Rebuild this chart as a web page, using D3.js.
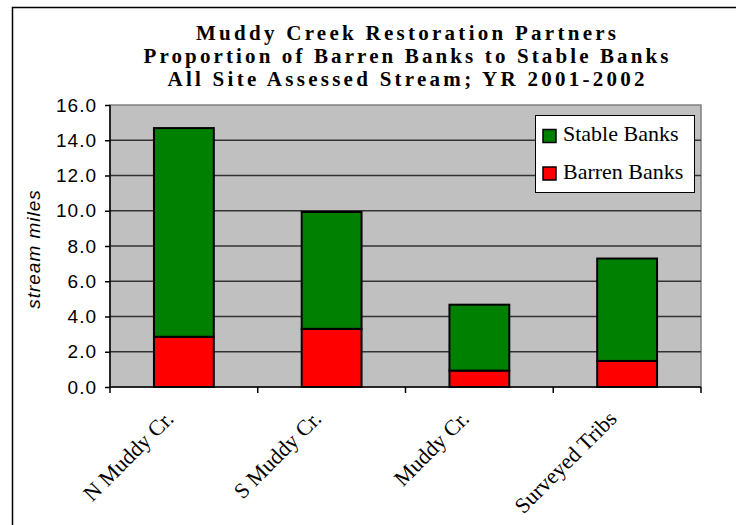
<!DOCTYPE html>
<html>
<head>
    <meta charset="utf-8"/>
    <title>Muddy Creek - barren vs stable banks</title>
    <script src="https://d3js.org/d3.v7.min.js"></script>
</head>
<style>
    body { margin: 0; background: #fff; }
    .grid line { stroke: #333; stroke-width: 1.5px; }
    .title { font-family: "Liberation Serif", "Times New Roman", serif; font-weight: bold; font-size: 21px; }
    .ytick { font-family: "Liberation Sans", Arial, sans-serif; font-size: 19px; letter-spacing: 1px; }
    .xlab { font-family: "Liberation Serif", "Times New Roman", serif; font-size: 22px; }
    .legend text { font-family: "Liberation Serif", "Times New Roman", serif; font-size: 22px; }
</style>
<body>
<div id="chart"></div>
<script>
    var sites = ["N Muddy Cr.", "S Muddy Cr.", "Muddy Cr.", "Surveyed Tribs"];
    var barren = [2.85, 3.30, 0.93, 1.48];
    var stable = [11.84, 6.63, 3.74, 5.81];
    var yTicks = [0, 2, 4, 6, 8, 10, 12, 14, 16];
    var titleLines = ["Muddy Creek Restoration Partners",
                      "Proportion of Barren Banks to Stable Banks",
                      "All Site Assessed Stream; YR 2001-2002"];
    var titleWidths = [420, 525, 477];

    var width = 736, height = 525;
    var plot = {left: 110, right: 701, top: 105, bottom: 387};

    var svg = d3.select("#chart").append("svg")
        .attr("width", width).attr("height", height);

    // outer chart frame (runs off the right and bottom edge)
    svg.append("rect")
        .attr("x", 12.5).attr("y", 7.5)
        .attr("width", 760).attr("height", 560)
        .attr("fill", "#fff").attr("stroke", "#000").attr("stroke-width", 1.5);

    var x = d3.scaleBand().domain(sites).range([plot.left, plot.right]);
    var y = d3.scaleLinear().domain([0, 16]).range([plot.bottom, plot.top]);
    var barW = x.bandwidth() * 0.405;

    svg.append("rect")
        .attr("x", plot.left).attr("y", plot.top)
        .attr("width", plot.right - plot.left).attr("height", plot.bottom - plot.top)
        .attr("fill", "#c0c0c0").attr("stroke", "#808080").attr("stroke-width", 1.5);

    svg.append("g").attr("class", "grid")
        .selectAll("line").data(yTicks.filter(function(d){ return d > 0 && d < 16; }))
        .enter().append("line")
        .attr("x1", plot.left).attr("x2", plot.right)
        .attr("y1", function(d){ return y(d); }).attr("y2", function(d){ return y(d); });

    // title
    svg.selectAll(".title").data(titleLines).enter().append("text")
        .attr("class", "title")
        .attr("x", 406)
        .attr("y", function(d, i){ return 40 + i * 23; })
        .attr("text-anchor", "middle")
        .attr("textLength", function(d, i){ return titleWidths[i]; })
        .attr("lengthAdjust", "spacing")
        .text(function(d){ return d; });

    // stacked bars
    var stacked = sites.map(function(s, i){
        return {site: s, barren: barren[i], stable: stable[i]};
    });
    var series = d3.stack().keys(["barren", "stable"])(stacked);
    var colors = {barren: "#ff0000", stable: "#008000"};

    svg.append("g").selectAll("g").data(series).enter().append("g")
        .attr("fill", function(d){ return colors[d.key]; })
        .selectAll("rect").data(function(d){ return d; }).enter().append("rect")
        .attr("x", function(d){ return x(d.data.site) + (x.bandwidth() - barW) / 2; })
        .attr("width", barW)
        .attr("y", function(d){ return y(d[1]); })
        .attr("height", function(d){ return y(d[0]) - y(d[1]); })
        .attr("stroke", "#000").attr("stroke-width", 2);

    // y axis
    var yAxis = d3.axisLeft(y).tickValues(yTicks).tickSize(5).tickFormat(d3.format(".1f"));
    var gy = svg.append("g").attr("transform", "translate(" + plot.left + ",0)").call(yAxis);
    gy.select(".domain").attr("stroke", "#000").attr("stroke-width", 1.5).attr("d", "M0," + plot.top + "V" + plot.bottom);
    gy.selectAll(".tick line").attr("stroke", "#000").attr("stroke-width", 1.5);
    gy.selectAll(".tick text").attr("class", "ytick").attr("x", -13).attr("fill", "#000");
    gy.attr("font-size", null).attr("font-family", null);

    svg.append("text")
        .attr("transform", "translate(40," + ((plot.top + plot.bottom) / 2 + 3) + ") rotate(-90)")
        .attr("text-anchor", "middle")
        .attr("font-family", "Liberation Sans, Arial, sans-serif")
        .attr("font-style", "italic")
        .attr("font-size", 19)
        .attr("letter-spacing", 1)
        .text("stream miles");

    // x axis: ticks at category boundaries
    var bounds = sites.map(function(s){ return x(s); }).concat([plot.right]);
    svg.append("line")
        .attr("x1", plot.left).attr("x2", plot.right)
        .attr("y1", plot.bottom).attr("y2", plot.bottom)
        .attr("stroke", "#000").attr("stroke-width", 1.5);
    svg.selectAll(".xtick").data(bounds).enter().append("line")
        .attr("x1", function(d){ return d; }).attr("x2", function(d){ return d; })
        .attr("y1", plot.bottom).attr("y2", plot.bottom + 6)
        .attr("stroke", "#000").attr("stroke-width", 1.5);

    svg.selectAll(".xlab").data(sites).enter().append("text")
        .attr("class", "xlab")
        .attr("text-anchor", "end")
        .attr("transform", function(d){
            return "translate(" + (x(d) + x.bandwidth() / 2 - 9) + ",420) rotate(-45)";
        })
        .text(function(d){ return d; });

    // legend
    var legend = svg.append("g").attr("class", "legend");
    legend.append("rect")
        .attr("x", 535.5).attr("y", 115.5).attr("width", 159).attr("height", 77)
        .attr("fill", "#fff").attr("stroke", "#000").attr("stroke-width", 1);
    var legendItems = [{key: "stable", label: "Stable Banks"}, {key: "barren", label: "Barren Banks"}];
    var li = legend.selectAll(".item").data(legendItems).enter().append("g")
        .attr("transform", function(d, i){ return "translate(0," + (i * 37.5) + ")"; });
    li.append("rect")
        .attr("x", 543).attr("y", 129.5).attr("width", 13).attr("height", 13)
        .attr("fill", function(d){ return colors[d.key]; })
        .attr("stroke", "#000").attr("stroke-width", 1.5);
    li.append("text")
        .attr("x", 563).attr("y", 141)
        .text(function(d){ return d.label; });
</script>
</body>
</html>
